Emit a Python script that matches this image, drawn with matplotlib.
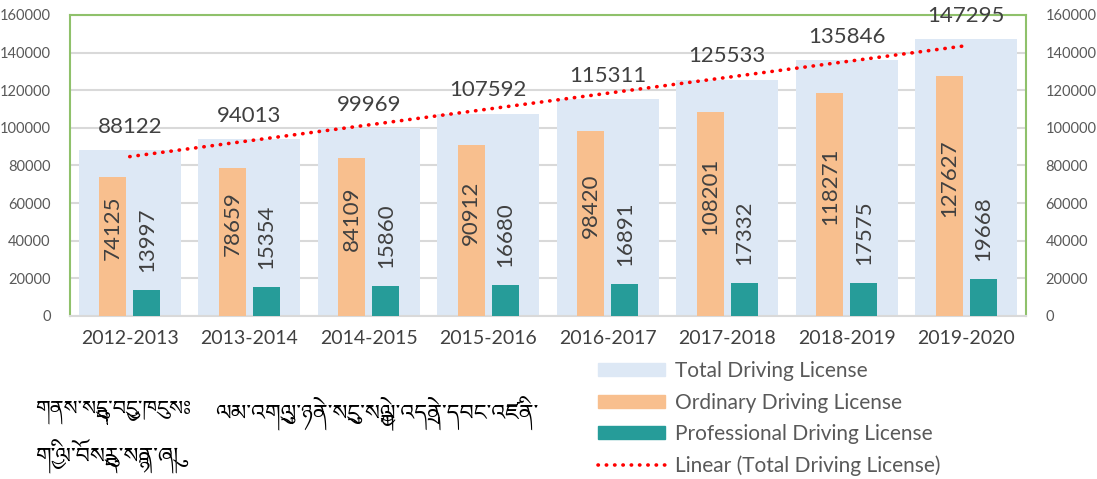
import numpy as np
import matplotlib
matplotlib.use('Agg')
import matplotlib.pyplot as plt
from matplotlib import font_manager
from matplotlib.patches import Patch
from matplotlib.lines import Line2D

#%% data
years = ['2012-2013', '2013-2014', '2014-2015', '2015-2016',
         '2016-2017', '2017-2018', '2018-2019', '2019-2020']
total = [88122, 94013, 99969, 107592, 115311, 125533, 135846, 147295]
ordinary = [74125, 78659, 84109, 90912, 98420, 108201, 118271, 127627]
professional = [13997, 15354, 15860, 16680, 16891, 17332, 17575, 19668]

series_names = ['Total Driving License', 'Ordinary Driving License',
                'Professional Driving License', 'Linear (Total Driving License)']
source_head = 'གནས་སྡུད་བྱུང་ཁུངསཿ'
source_body = 'ལམ་འགྲུལ་ཉེན་སྲུང་སྐྱེལ་འདྲེན་དབང་འཛིན་'
source_body2 = 'གྱི་ལོ་བསྡུར་སྙན་ཞུ།'

#%% tibetan font, if the system has one
tib = ['DejaVu Sans']
for path in font_manager.findSystemFonts():
    if 'Tibetan' in path:
        font_manager.fontManager.addfont(path)
        tib = [font_manager.FontProperties(fname=path).get_name(), 'DejaVu Sans']
        break

plt.rcParams['font.family'] = ['Lato', 'DejaVu Sans']

fig = plt.figure(figsize=(10.97, 4.79), dpi=100)
ax = fig.add_axes([0.0638, 0.3403, 0.8715, 0.6284])

x = np.arange(len(years))
c_total = '#DDE8F5'
c_ord = '#F8BF8E'
c_pro = '#269C99'
c_text = '#404040'
trend_style = dict(color='red', lw=2.6, linestyle=(0, (0.1, 2.2)),
                   dash_capstyle='round')

ax.bar(x, total, width=0.85, color=c_total, zorder=2)
ax.bar(x - 0.142, ordinary, width=0.226, color=c_ord, zorder=3)
ax.bar(x + 0.142, professional, width=0.226, color=c_pro, zorder=3)

# linear trend of totals
k, m = np.polyfit(x, total, 1)
ax.plot(x, k * x + m, zorder=4, **trend_style)

for i in range(len(years)):
    ax.annotate(str(total[i]), (x[i], total[i]), xytext=(0, 12.5),
                textcoords='offset points', ha='center', va='baseline',
                fontsize=16, color=c_text, zorder=5)
    ax.annotate(str(ordinary[i]), (x[i] - 0.142, ordinary[i] / 2), xytext=(0, 13),
                textcoords='offset points', ha='center', va='center',
                rotation=90, fontsize=16, color=c_text, zorder=5)
    ax.annotate(str(professional[i]), (x[i] + 0.142, professional[i]), xytext=(0, 13),
                textcoords='offset points', ha='center', va='bottom',
                rotation=90, fontsize=16, color=c_text, zorder=5)

ax.set_xlim(-0.5, len(years) - 0.5)
ax.set_ylim(0, 160000)
ax.set_yticks(np.arange(0, 160001, 20000))
ax.set_xticks(x)
ax.set_xticklabels(years, fontsize=14, color=c_text)
ax.tick_params(axis='x', length=0, pad=10)
ax.tick_params(axis='y', length=0, labelsize=10.5, labelcolor='#595959', pad=14)
ax.grid(axis='y', color='#D9D9D9', lw=1.5, zorder=0)

green = '#8FC16B'
for s in ['left', 'right', 'top']:
    ax.spines[s].set_color(green)
    ax.spines[s].set_linewidth(1.5)
ax.spines['bottom'].set_color('#D9D9D9')
ax.spines['bottom'].set_linewidth(1.5)

ax2 = ax.twinx()
ax2.set_ylim(ax.get_ylim())
ax2.set_yticks(np.arange(0, 160001, 20000))
ax2.tick_params(axis='y', length=0, labelsize=10.5, labelcolor='#595959', pad=14)
for s in ax2.spines.values():
    s.set_visible(False)

handles = [Patch(color=c_total), Patch(color=c_ord), Patch(color=c_pro),
           Line2D([], [], **trend_style)]
fig.legend(handles, series_names, loc='upper left', bbox_to_anchor=(0.545, 0.246),
           frameon=False, fontsize=15, labelcolor='#595959', handlelength=3.2,
           handleheight=0.6, labelspacing=0.55, borderaxespad=0, borderpad=0,
           handletextpad=0.5)

fig.text(0.032, 0.137, source_head, family=tib, fontsize=15, weight='bold',
         color='black', va='center')
fig.text(0.196, 0.137, source_body, family=tib, fontsize=16, color='black',
         va='center')
fig.text(0.032, 0.048, source_body2, family=tib, fontsize=16, color='black',
         va='center')

fig.savefig('out.png', dpi=100)
